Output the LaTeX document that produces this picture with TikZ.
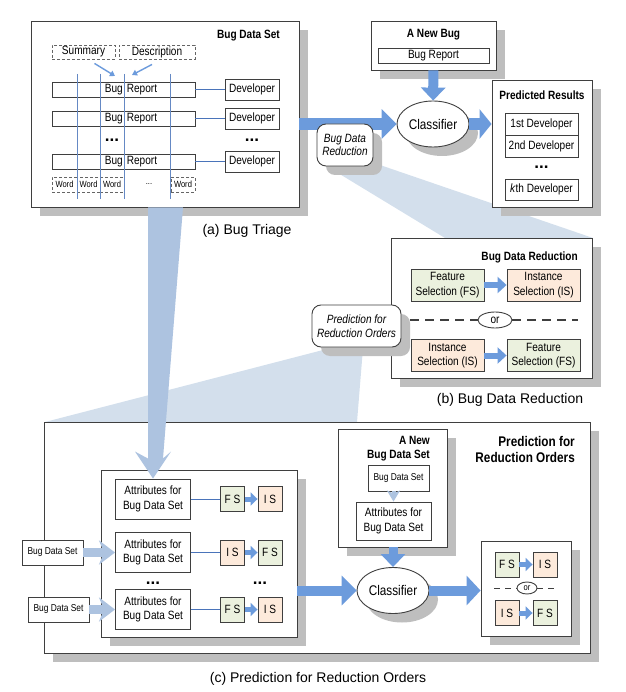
\documentclass[tikz,border=0pt]{standalone}
\usepackage{fontspec}
\setmainfont{Liberation Sans}
\newfontfamily\narrowfont{Liberation Sans}[FakeStretch=0.84]
\usetikzlibrary{arrows.meta,positioning,calc,shapes.geometric,shadows,backgrounds}
\definecolor{Ink}{HTML}{3F3F3F}
\definecolor{Shade}{HTML}{BEBEBE}
\definecolor{Flow}{HTML}{6C9BDC}
\definecolor{Pale}{HTML}{ADC3E0}
\definecolor{Haze}{HTML}{D3DFEC}
\definecolor{Rule}{HTML}{4A74BA}
\definecolor{FSfill}{HTML}{EBF1DE}
\definecolor{ISfill}{HTML}{FDEADB}
\newcommand{\BoxFont}{\narrowfont\fontsize{12}{14.5}\selectfont}
\newcommand{\SmallFont}{\narrowfont\fontsize{10}{11}\selectfont}
\newcommand{\TinyFont}{\narrowfont\fontsize{9}{10}\selectfont}
\newcommand{\TitleFont}{\narrowfont\bfseries\fontsize{12}{14}\selectfont}
\newcommand{\HeadFont}{\narrowfont\bfseries\fontsize{14}{16}\selectfont}
\newcommand{\NoteFont}{\narrowfont\itshape\fontsize{12}{13.5}\selectfont}
\newcommand{\ClsFont}{\narrowfont\fontsize{14}{16}\selectfont}
\newcommand{\CapFont}{\fontsize{14}{16}\selectfont}
\newcommand{\DotFont}{\bfseries\fontsize{17}{17}\selectfont}
\tikzset{
  panel/.style={draw=Ink,fill=white,line width=0.9pt,inner sep=0pt,
    drop shadow={shadow xshift=9pt,shadow yshift=-9pt,fill=Shade,opacity=1}},
  box/.style={draw=Ink,fill=white,line width=0.9pt,inner sep=1pt,align=center,font=\BoxFont},
  rowbox/.style={box,minimum width=143pt,minimum height=15pt},
  dashbox/.style={box,dash pattern=on 3pt off 2pt,draw=Ink!80},
  title/.style={font=\TitleFont,inner sep=0pt,align=center},
  caption/.style={font=\CapFont,inner sep=0pt},
  ellip/.style={font=\DotFont,inner sep=0pt,anchor=base},
  note/.style={panel,rounded corners=9pt,font=\NoteFont,align=center,minimum width=56pt,minimum height=42pt},
  cls/.style={panel,ellipse,minimum width=72pt,minimum height=46pt,font=\ClsFont},
  attr/.style={box,minimum width=75pt,minimum height=40pt},
  fsbox/.style={box,fill=FSfill,minimum width=73pt,minimum height=32pt},
  isbox/.style={fsbox,fill=ISfill},
  tag/.style={box,minimum width=24pt,minimum height=25pt,inner sep=0pt},
  tagFS/.style={tag,fill=FSfill},
  tagIS/.style={tag,fill=ISfill},
  orbox/.style={box,ellipse,minimum width=34pt,minimum height=16pt,inner sep=0pt},
  orsmall/.style={orbox,minimum width=20pt,minimum height=12pt,font=\TinyFont},
  split/.style={draw=Ink,line width=1.2pt,dash pattern=on 9pt off 6pt},
  splitsmall/.style={draw=Ink,line width=1pt,dash pattern=on 6pt off 5pt},
  link/.style={draw=Rule,line width=1pt},
  gridline/.style={draw=Rule!85,line width=0.8pt},
  thinarrow/.style={draw=Flow,line width=1.4pt,-{Triangle[length=5pt,width=6pt]}},
  bigarrow/.style={draw=Flow,line width=12pt,-{Triangle[length=15pt,width=29pt]}},
  midarrow/.style={draw=Flow,line width=6pt,-{Triangle[length=9pt,width=16pt]}},
  tinyarrow/.style={draw=Flow,line width=5pt,-{Triangle[length=7pt,width=13pt]}},
  palearrow/.style={draw=Pale,line width=9pt,-{Stealth[length=16pt,width=24pt,inset=5pt]}},
}
\begin{document}
\begin{tikzpicture}[x=1pt,y=-1pt]
\useasboundingbox (0,0) rectangle (625,692);
\node[panel,minimum width=268pt,minimum height=186pt] (setA) at (165,114) {};
\node[title,anchor=east] (setAtitle) at (280,36) {Bug Data Set};
\node[dashbox,minimum width=63pt,minimum height=14pt] (summary) at (83.5,52) {Summary};
\node[dashbox,minimum width=76pt,minimum height=14pt] (descr) at (157,52) {Description};
\coordinate (sumtip) at (115,76);
\coordinate (destip) at (132,75);
\draw[thinarrow] ([xshift=11pt,yshift=-4pt]summary.south) -- (sumtip);
\draw[thinarrow] ([xshift=-5pt,yshift=-5pt]descr.south) -- (destip);
\foreach \y/\n in {89.5/1,118.5/2,161.5/3} {
  \node[rowbox] (br\n) at (123.5,\y) {\hspace*{15pt}Bug\hspace{4pt}Report};
  \node[box,minimum width=54pt,minimum height=21pt] (dev\n) at (252,\y) {Developer};
  \draw[link] (br\n) -- (dev\n);
}
\node[ellip] (brdots) at (112,142) {...};
\node[ellip] (devdots) at (252,142) {...};
\foreach \x/\w/\i in {64.5/25/1,88.5/23/2,112/24/3,183/24/4}
  \node[dashbox,font=\TinyFont,minimum width=\w pt,minimum height=15pt] (word\i) at (\x,184.5) {Word};
\node[font=\TinyFont,inner sep=0pt,anchor=base] (worddots) at (149,185) {...};
\foreach \x in {77,100,124,170}
  \draw[gridline] (\x,74) -- (\x,199);
\node[caption] (capA) at (247,231) {(a) Bug Triage};
\node[panel,minimum width=125pt,minimum height=49pt] (newbug) at (433.5,45.5) {};
\node[title] (newbugtitle) at (433.5,35) {A New Bug};
\node[box,minimum width=111pt,minimum height=15pt] (newbr) at (433.5,55.5) {Bug Report};
\node[cls] (cls1) at (433,124) {Classifier};
\draw[bigarrow,line width=10pt,-{Triangle[length=13pt,width=24pt]}] (newbug) -- (cls1);
\draw[bigarrow] (setA.east |- cls1.west) -- (cls1.west);
\node[note] (bdr) at (345,145) {Bug Data\\Reduction};
\node[panel,minimum width=100pt,minimum height=127pt] (pred) at (542,143.5) {};
\node[title] (predtitle) at (542,95) {Predicted Results};
\node[box,minimum width=73pt,minimum height=22pt] (dv1) at (541.5,124) {1st Developer};
\node[box,minimum width=73pt,minimum height=22pt] (dv2) at (541.5,146) {2nd Developer};
\node[ellip] (dvdots) at (541.5,169) {...};
\node[box,minimum width=73pt,minimum height=21pt] (dvk) at (541.5,189.5) {\textit{k}th Developer};
\draw[bigarrow,-{Triangle[length=12pt,width=29pt]}] (cls1.east) -- (pred.west |- cls1.east);
\node[panel,minimum width=201pt,minimum height=140pt] (redu) at (491.5,308) {};
\node[title,anchor=east] (redutitle) at (578,257) {Bug Data Reduction};
\node[fsbox] (fs1) at (447.5,285) {Feature\\Selection (FS)};
\node[isbox] (is1) at (543.5,285) {Instance\\Selection (IS)};
\draw[midarrow] (fs1) -- (is1);
\node[orbox] (or1) at (495,320) {or};
\coordinate (orL) at (410,320);
\coordinate (orR) at (578,320);
\draw[split] (orL) -- (or1) (or1) -- (orR);
\node[isbox] (is2) at (447.5,355.5) {Instance\\Selection (IS)};
\node[fsbox] (fs2) at (543.5,355.5) {Feature\\Selection (FS)};
\draw[midarrow] (is2) -- (fs2);
\node[note,minimum width=89pt] (pro) at (356.5,326) {Prediction for\\Reduction Orders};
\node[caption] (capB) at (510,400) {(b) Bug Data Reduction};
\node[panel,minimum width=546pt,minimum height=231pt] (pc) at (317,537.5) {};
\node[font=\HeadFont,align=right,inner sep=0pt,anchor=east] (pctitle) at (575,449) {Prediction for\\Reduction Orders};
\node[panel,minimum width=196pt,minimum height=167pt] (trn) at (199,553.5) {};
\foreach \y/\p/\q/\s/\t/\n in {499/FS/IS/F S/I S/1,552.5/IS/FS/I S/F S/2,609.5/FS/IS/F S/I S/3} {
  \node[attr] (at\n) at (153,\y) {Attributes for\\Bug Data Set};
  \node[tag\p] (ta\n) at (232.5,\y) {\s};
  \node[tag\q] (tb\n) at (270,\y) {\t};
  \draw[link] (at\n) -- (ta\n);
  \draw[tinyarrow] (ta\n) -- (tb\n);
}
\node[ellip] (atdots) at (153,584) {...};
\node[ellip] (tagdots) at (260,584) {...};
\node[box,font=\SmallFont,minimum width=61pt,minimum height=25pt] (ds1) at (52.5,552.5) {Bug Data Set};
\node[box,font=\SmallFont,minimum width=61pt,minimum height=25pt] (ds2) at (58.5,609.5) {Bug Data Set};
\draw[palearrow] (ds1) -- (at2);
\draw[palearrow] (ds2) -- (at3);
\node[panel,minimum width=109pt,minimum height=118pt] (nd) at (392.5,488) {};
\node[title,align=right,anchor=east] (ndtitle) at (430,449) {A New\\Bug Data Set};
\node[box,font=\SmallFont,minimum width=61pt,minimum height=26pt] (ds3) at (398.5,478) {Bug Data Set};
\node[attr,minimum height=38pt] (at4) at (393.5,521) {Attributes for\\Bug Data Set};
\draw[palearrow,line width=4pt,-{Stealth[length=11pt,width=13pt,inset=3pt]}] (at4.north |- ds3.south) -- (at4.north);
\node[cls] (cls2) at (393,590.5) {Classifier};
\draw[bigarrow,line width=9pt,-{Triangle[length=13pt,width=24pt]}] (nd.south -| cls2.north) -- (cls2.north);
\draw[bigarrow,line width=10pt] (trn.east |- cls2.west) -- (cls2.west);
\node[panel,minimum width=90pt,minimum height=95pt] (res) at (526,588.5) {};
\draw[bigarrow,line width=10pt,-{Triangle[length=14pt,width=29pt]}] (cls2.east) -- (res.west |- cls2.east);
\node[tagFS] (r1) at (507,564.5) {F S};
\node[tagIS] (r2) at (545,564.5) {I S};
\draw[tinyarrow] (r1) -- (r2);
\node[orsmall] (or2) at (527,588) {or};
\coordinate (or2L) at (494,588);
\coordinate (or2R) at (556,588);
\draw[splitsmall] (or2L) -- (or2) (or2) -- (or2R);
\node[tagIS] (r3) at (507,613) {I S};
\node[tagFS] (r4) at (545,613) {F S};
\draw[tinyarrow] (r3) -- (r4);
\node[caption] (capC) at (318,679) {(c) Prediction for Reduction Orders};
\begin{scope}[on background layer]
\fill[Haze] (333,170) -- (380,165) -- (593,238) -- (445,238) -- cycle;
\fill[Haze] (45,422) -- (323,350) -- (363,348) -- (357,422) -- cycle;
\end{scope}
\coordinate (tapTop) at (at1.north |- setA.south);
\fill[Pale] ([xshift=-5pt]tapTop) -- ([xshift=30pt]tapTop) -- ([xshift=10pt,yshift=20pt]at1.north)
  -- ([xshift=18pt,yshift=27pt]at1.north) -- (at1.north) -- ([xshift=-18pt,yshift=27pt]at1.north)
  -- ([xshift=-5pt,yshift=20pt]at1.north) -- cycle;
\end{tikzpicture}
\end{document}
